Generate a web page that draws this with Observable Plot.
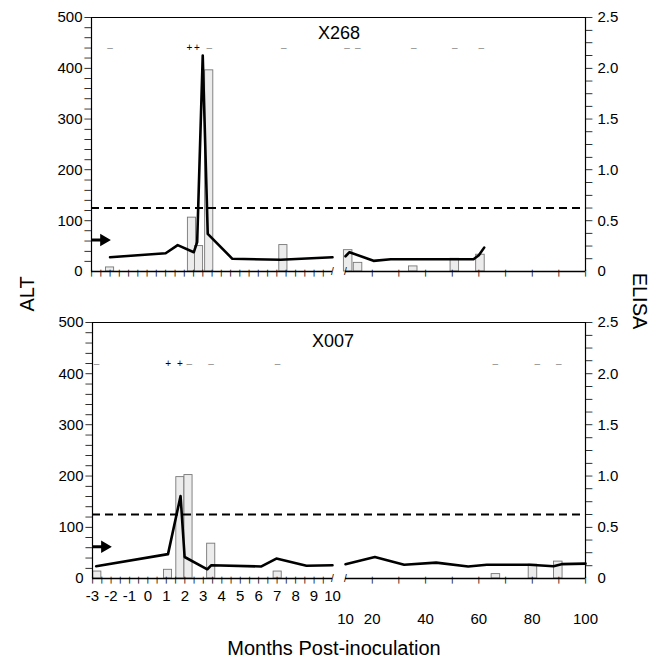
<!DOCTYPE html>
<html>
<head>
<meta charset="utf-8">
<script src="https://cdn.jsdelivr.net/npm/d3@7"></script>
<script src="https://cdn.jsdelivr.net/npm/@observablehq/plot@0.6"></script>
<style>
  body { margin: 0; background: #fff; }
  #fig { position: relative; width: 659px; height: 658px; font-family: "Liberation Sans", Arial, Helvetica, sans-serif; color: #000; overflow: hidden; }
  #fig > svg { position: absolute; overflow: visible; }
  .lbl { position: absolute; white-space: nowrap; line-height: 1; }
</style>
</head>
<body>
<div id="fig"></div>
<script>
// ---------------- data ----------------
const panelNames = ["X268", "X007"];

// X268 — ALT line
const x268AltMonthsEarly = [-2, 1, 1.65, 2.52, 2.7, 3.0, 3.27, 4.6, 7.2, 10];
const x268AltEarly       = [28, 36, 52, 38, 58, 425, 74, 25, 23, 28];
const x268AltMonthsLate  = [10, 11.5, 20.5, 27, 58, 60, 62];
const x268AltLate        = [30, 38, 21, 24, 24, 32, 47];
// X268 — ELISA bars
const x268ElisaMonthsEarly = [-2, 2.42, 2.8, 3.35, 7.35];
const x268ElisaEarly       = [0.04, 0.53, 0.25, 1.98, 0.26];
const x268ElisaMonthsLate  = [11, 14.7, 35.4, 51, 60.6];
const x268ElisaLate        = [0.21, 0.085, 0.05, 0.125, 0.165];
// X268 — PCR results
const x268PcrMonths  = [-2, 2.28, 2.68, 3.36, 7.37, 10.6, 14.6, 35.6, 51, 60.9];
const x268PcrResults = ["-", "+", "+", "-", "-", "-", "-", "-", "-", "-"];

// X007 — ALT line
const x007AltMonthsEarly = [-2.8, 1.09, 1.77, 1.99, 3.22, 3.44, 6.15, 6.96, 8.59, 10];
const x007AltEarly       = [24, 47.6, 161, 42, 18, 26, 23.5, 39, 25, 26];
const x007AltMonthsLate  = [10, 21, 32, 44, 56, 63, 79, 88, 91, 100];
const x007AltLate        = [28, 42, 27, 31, 23.5, 27, 27, 24, 28, 29];
// X007 — ELISA bars
const x007ElisaMonthsEarly = [-2.74, 1.09, 1.76, 2.2, 3.43, 7.03];
const x007ElisaEarly       = [0.068, 0.085, 0.99, 1.01, 0.34, 0.068];
const x007ElisaMonthsLate  = [66.4, 80.3, 89.8];
const x007ElisaLate        = [0.043, 0.135, 0.165];
// X007 — PCR results
const x007PcrMonths  = [-2.78, 1.1, 1.74, 2.24, 3.42, 7.02, 66.2, 81.9, 90];
const x007PcrResults = ["-", "+", "+", "-", "-", "-", "-", "-", "-"];

// reference levels
const cutoffAlt = 125;      // dashed cutoff
const arrowAlt = 62;        // arrow marker on ALT axis

// scales / ticks
const altDomain = [0, 500];
const altTicks = [0, 100, 200, 300, 400, 500];
const altMinorTicks = d3.range(0, 501, 20);
const elisaTicks = [0, 0.5, 1.0, 1.5, 2.0, 2.5];
const elisaMinorTicks = d3.range(0, 2.5001, 0.125);
const ALT_PER_ELISA = 500 / 2.5;
const earlyDomain = [-3, 10];
const lateDomain = [10, 100];
const earlyTicks = d3.range(-3, 10.001, 1);
const earlyMinorTicks = d3.range(-3, 10.001, 0.5);
const lateTicks = d3.range(10, 100.001, 10);
const lateTickLabels = [10, 20, 40, 60, 80, 100];

// ---------------- helpers ----------------
const rows = (xs, ys, k1, k2) => xs.map((x, i) => ({[k1]: x, [k2]: ys[i]}));
const panelData = [
  {
    altEarly: rows(x268AltMonthsEarly, x268AltEarly, "month", "alt"),
    altLate: rows(x268AltMonthsLate, x268AltLate, "month", "alt"),
    barsEarly: rows(x268ElisaMonthsEarly, x268ElisaEarly, "month", "elisa"),
    barsLate: rows(x268ElisaMonthsLate, x268ElisaLate, "month", "elisa"),
    pcr: rows(x268PcrMonths, x268PcrResults, "month", "result")
  },
  {
    altEarly: rows(x007AltMonthsEarly, x007AltEarly, "month", "alt"),
    altLate: rows(x007AltMonthsLate, x007AltLate, "month", "alt"),
    barsEarly: rows(x007ElisaMonthsEarly, x007ElisaEarly, "month", "elisa"),
    barsLate: rows(x007ElisaMonthsLate, x007ElisaLate, "month", "elisa"),
    pcr: rows(x007PcrMonths, x007PcrResults, "month", "result")
  }
];

// layout (pixels)
const layout = [
  {svgTop: 0,   marginTop: 17, frameH: 254, marginBottom: 14, marginLeft: 91, labels: false, markerAlt: 440, nameLeft: 318, nameTop: 24},
  {svgTop: 305, marginTop: 17, frameH: 256, marginBottom: 52, marginLeft: 92, labels: true,  markerAlt: 419, nameLeft: 312, nameTop: 332}
];
const splitX = 338, earlyEnd = 332, lateStart = 345, rightAxisX = 585, figW = 659;
const font = "'Liberation Sans', Arial, Helvetica, sans-serif";
const baseStyle = {fontFamily: font, fontSize: "15px", background: "transparent", overflow: "visible", color: "#000"};
const fmtElisa = d => { const e = d / ALT_PER_ELISA; return e === 0 ? "0" : e.toFixed(1); };

const fig = document.getElementById("fig");
const place = (svg, left, top) => { svg.style.left = left + "px"; svg.style.top = top + "px"; fig.appendChild(svg); };

function barMark(data, half) {
  return Plot.rect(data, {
    x1: d => d.month - half, x2: d => d.month + half,
    y1: 0, y2: d => d.elisa * ALT_PER_ELISA,
    fill: "#ececec", stroke: "#777", strokeWidth: 0.9
  });
}
function pcrMarks(data, lay, domain) {
  const inSeg = d => d.month >= domain[0] && d.month <= domain[1];
  return [
    Plot.text(data.filter(d => inSeg(d) && d.result === "+"), {x: "month", y: lay.markerAlt, text: () => "+", fill: "#000", fontSize: 10}),
    Plot.text(data.filter(d => inSeg(d) && d.result === "-"), {x: "month", y: lay.markerAlt, text: () => "\u2013", fill: "#888", fontSize: 10})
  ];
}
// tick marks drawn as small bar glyphs
const tickGlyph = {text: () => "|", fontSize: 7, fontWeight: "bold", fontFamily: "DejaVu Sans", fill: "#000"};
const xTickGlyphs = ticks => Plot.text(ticks, {...tickGlyph, x: d => d, y: 0, lineAnchor: "top", dy: -1});
const yTickGlyphs = (ticks, axisMonth, side) => Plot.text(ticks, {...tickGlyph, x: axisMonth, y: d => d, rotate: 90, dx: side * 3.5});

layout.forEach((lay, p) => {
  const dat = panelData[p];
  const height = lay.marginTop + lay.frameH + lay.marginBottom;

  // ----- early segment (-3 .. 10 months), left ALT axis -----
  const earlyRange = [lay.marginLeft, earlyEnd];
  const early = Plot.plot({
    width: splitX, height,
    marginLeft: lay.marginLeft, marginRight: 0, marginTop: lay.marginTop, marginBottom: lay.marginBottom,
    style: baseStyle,
    x: lay.labels ? {domain: earlyDomain, range: earlyRange} : {domain: earlyDomain, range: earlyRange, axis: null},
    y: {domain: altDomain},
    marks: [
      barMark(dat.barsEarly, 0.22),
      Plot.ruleY([altDomain[1]], {stroke: "#000", strokeWidth: 1.2}),
      Plot.ruleY([cutoffAlt], {stroke: "#000", strokeWidth: 2, strokeDasharray: "8,5"}),
      Plot.ruleX([earlyDomain[0]], {stroke: "#000", strokeWidth: 1.2}),
      Plot.ruleY([0], {x1: earlyDomain[0], x2: earlyDomain[1], stroke: "#000", strokeWidth: 1.5}),
      xTickGlyphs(earlyMinorTicks.filter(t => t < earlyDomain[1])),
      yTickGlyphs(altMinorTicks.filter(v => v > altDomain[0]), earlyDomain[0], -1),
      Plot.line(dat.altEarly, {x: "month", y: "alt", stroke: "#000", strokeWidth: 2.6, strokeLinejoin: "round"}),
      ...pcrMarks(dat.pcr, lay, earlyDomain),
      Plot.ruleY([arrowAlt], {x1: earlyDomain[0], x2: earlyDomain[0] + 0.55, stroke: "#000", strokeWidth: 3}),
      Plot.dot([arrowAlt], {x: earlyDomain[0] + 0.66, y: d => d, symbol: "triangle", rotate: 90, r: 3.6, fill: "#000", stroke: "#000"}),
      Plot.text([0], {x: earlyDomain[1], y: 0, text: () => "/", fontSize: 10}),
      Plot.axisY(altTicks, {anchor: "left", tickSize: 0, tickPadding: 9, label: null, fontSize: 15}),
      ...(lay.labels ? [Plot.axisX(earlyTicks, {anchor: "bottom", tickSize: 0, tickPadding: 12, label: null, fontSize: 15, tickFormat: d => String(d)})] : [])
    ]
  });
  place(early, 0, lay.svgTop);

  // ----- late segment (10 .. 100 months), right ELISA axis -----
  const lateW = figW - splitX;
  const lateRange = [lateStart - splitX, rightAxisX - splitX];
  const late = Plot.plot({
    width: lateW, height,
    marginLeft: 0, marginRight: lateW - (rightAxisX - splitX), marginTop: lay.marginTop, marginBottom: lay.marginBottom,
    style: baseStyle,
    x: lay.labels ? {domain: lateDomain, range: lateRange} : {domain: lateDomain, range: lateRange, axis: null},
    y: {domain: altDomain},
    marks: [
      barMark(dat.barsLate, 1.6),
      Plot.ruleY([altDomain[1]], {stroke: "#000", strokeWidth: 1.2}),
      Plot.ruleY([cutoffAlt], {stroke: "#000", strokeWidth: 2, strokeDasharray: "8,5"}),
      Plot.ruleX([lateDomain[1]], {stroke: "#000", strokeWidth: 1.2}),
      Plot.ruleY([0], {x1: lateDomain[0], x2: lateDomain[1], stroke: "#000", strokeWidth: 1.5}),
      xTickGlyphs(lateTicks.filter(t => t > lateDomain[0])),
      yTickGlyphs(elisaMinorTicks.filter(e => e > 0).map(e => e * ALT_PER_ELISA), lateDomain[1], 1),
      Plot.line(dat.altLate, {x: "month", y: "alt", stroke: "#000", strokeWidth: 2.6, strokeLinejoin: "round"}),
      ...pcrMarks(dat.pcr, lay, [lateDomain[0] + 0.001, lateDomain[1]]),
      Plot.text([0], {x: lateDomain[0], y: 0, text: () => "/", fontSize: 10}),
      Plot.axisY(elisaTicks.map(e => e * ALT_PER_ELISA), {anchor: "right", tickSize: 0, tickPadding: 12, label: null, fontSize: 15, tickFormat: fmtElisa}),
      ...(lay.labels ? [Plot.axisX(lateTickLabels, {anchor: "bottom", tickSize: 0, tickPadding: 35, label: null, fontSize: 15, tickFormat: d => String(d)})] : [])
    ]
  });
  place(late, splitX, lay.svgTop);

  // panel name
  const nm = document.createElement("div");
  nm.className = "lbl";
  nm.textContent = panelNames[p];
  nm.style.cssText += `left:${lay.nameLeft}px;top:${lay.nameTop}px;font-size:18px;`;
  fig.appendChild(nm);
});

// axis titles
function addLabel(text, cx, cy, size, rot) {
  const el = document.createElement("div");
  el.className = "lbl";
  el.textContent = text;
  el.style.cssText += `left:${cx}px;top:${cy}px;font-size:${size}px;transform:translate(-50%,-50%) rotate(${rot}deg);`;
  fig.appendChild(el);
}
addLabel("ALT", 27, 294, 20, -90);
addLabel("ELISA", 640, 301, 20, 90);
addLabel("Months Post-inoculation", 334, 648, 20, 0);
</script>
</body>
</html>
